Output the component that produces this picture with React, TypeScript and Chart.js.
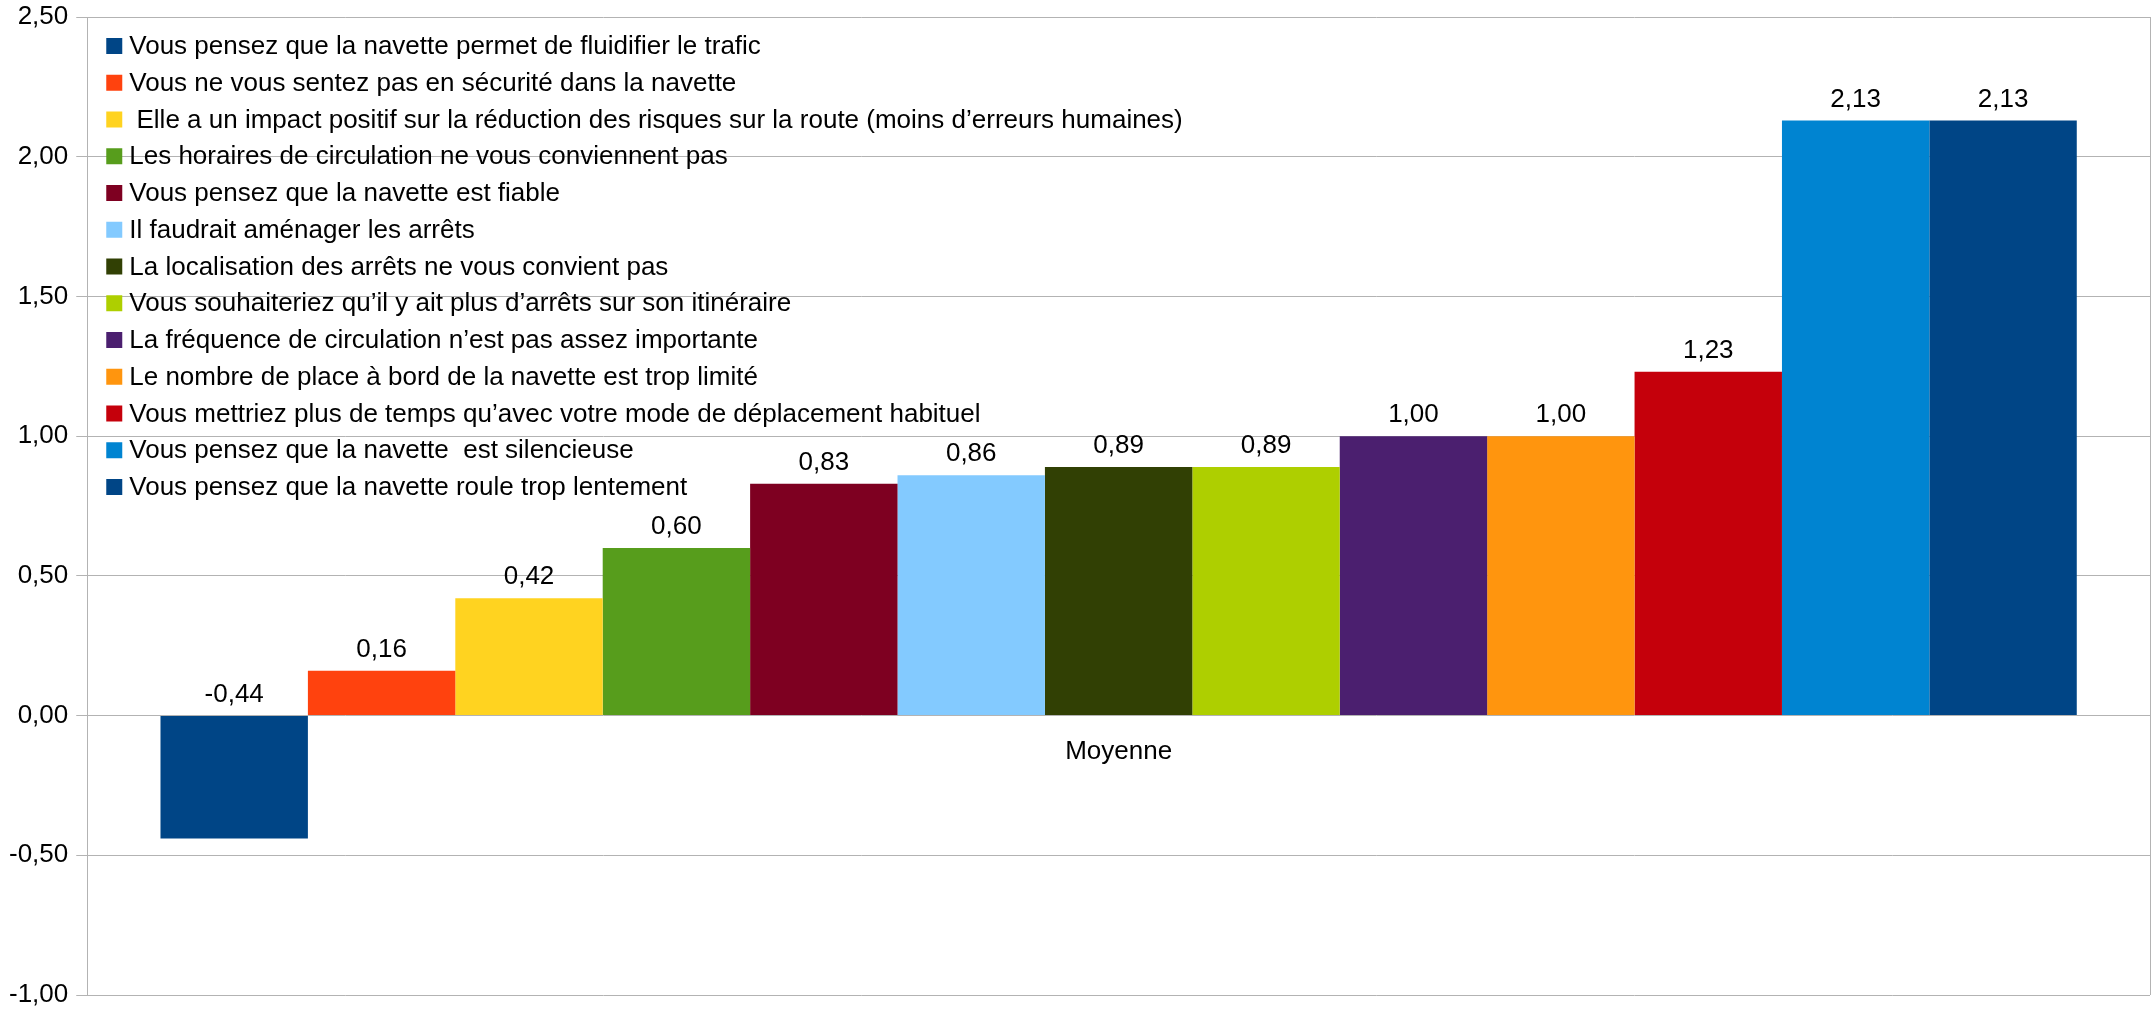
import React, { useEffect, useRef } from "react";
import { Chart, registerables } from "chart.js";

Chart.register(...registerables);

const categories = ["Moyenne"];

const seriesLabels = [
  "Vous pensez que la navette permet de fluidifier le trafic",
  "Vous ne vous sentez pas en sécurité dans la navette",
  " Elle a un impact positif sur la réduction des risques sur la route (moins d’erreurs humaines)",
  "Les horaires de circulation ne vous conviennent pas",
  "Vous pensez que la navette est fiable",
  "Il faudrait aménager les arrêts",
  "La localisation des arrêts ne vous convient pas",
  "Vous souhaiteriez qu’il y ait plus d’arrêts sur son itinéraire",
  "La fréquence de circulation n’est pas assez importante",
  "Le nombre de place à bord de la navette est trop limité",
  "Vous mettriez plus de temps qu’avec votre mode de déplacement habituel",
  "Vous pensez que la navette  est silencieuse",
  "Vous pensez que la navette roule trop lentement",
];

const seriesValues = [-0.44, 0.16, 0.42, 0.6, 0.83, 0.86, 0.89, 0.89, 1.0, 1.0, 1.23, 2.13, 2.13];

const seriesColors = [
  "#004586",
  "#ff420e",
  "#ffd320",
  "#579d1c",
  "#7e0021",
  "#83caff",
  "#314004",
  "#aecf00",
  "#4b1f6f",
  "#ff950e",
  "#c5000b",
  "#0084d1",
  "#004586",
];

const yMin = -1;
const yMax = 2.5;
const yStep = 0.5;

const FONT = '"Liberation Sans", Arial, sans-serif';
const fmt = (v: number) => v.toFixed(2).replace(".", ",");

const insideLegend = {
  id: "insideLegend",
  afterDraw(chart: any) {
    const { ctx, chartArea } = chart;
    ctx.save();
    ctx.font = `26px ${FONT}`;
    ctx.textBaseline = "middle";
    ctx.textAlign = "left";
    chart.data.datasets.forEach((ds: any, i: number) => {
      const cy = chartArea.top + 29 + i * 36.75;
      ctx.fillStyle = ds.backgroundColor;
      ctx.fillRect(chartArea.left + 19, cy - 8, 16, 16);
      ctx.fillStyle = "#000";
      ctx.fillText(ds.label, chartArea.left + 42, cy + 1);
    });
    ctx.restore();
  },
};

const valueLabels = {
  id: "valueLabels",
  afterDatasetsDraw(chart: any) {
    const { ctx } = chart;
    ctx.save();
    ctx.font = `26px ${FONT}`;
    ctx.textBaseline = "middle";
    ctx.textAlign = "center";
    ctx.fillStyle = "#000";
    chart.data.datasets.forEach((ds: any, i: number) => {
      const meta = chart.getDatasetMeta(i);
      meta.data.forEach((el: any, j: number) => {
        const top = Math.min(el.y, el.base);
        ctx.fillText(fmt(ds.data[j]), el.x, top - 21);
      });
    });
    ctx.restore();
  },
};

export default function App() {
  const ref = useRef<HTMLCanvasElement | null>(null);

  useEffect(() => {
    document.body.style.margin = "0";
    const canvas = ref.current;
    if (!canvas) return;
    const chart = new Chart(canvas, {
      type: "bar",
      data: {
        labels: categories,
        datasets: seriesLabels.map((label, i) => ({
          label,
          data: [seriesValues[i]],
          backgroundColor: seriesColors[i],
          borderWidth: 0,
          categoryPercentage: 0.929,
          barPercentage: 1.0,
        })),
      },
      options: {
        animation: false,
        responsive: false,
        maintainAspectRatio: false,
        layout: { padding: { top: 17, bottom: 18, left: 1, right: 1 } },
        plugins: {
          legend: { display: false },
          tooltip: { enabled: false },
          title: { display: false },
        },
        scales: {
          x: {
            type: "category",
            position: { y: 0 } as any,
            grid: { offset: true, drawTicks: false, color: "#b3b3b3", lineWidth: 1 },
            border: { display: false },
            ticks: {
              color: "#000",
              font: { family: FONT, size: 26 },
              padding: 21,
            },
          },
          y: {
            min: yMin,
            max: yMax,
            grid: { color: "#b3b3b3", lineWidth: 1, tickLength: 11, drawTicks: true },
            border: { display: true, color: "#b3b3b3" },
            ticks: {
              stepSize: yStep,
              color: "#000",
              font: { family: FONT, size: 26, lineHeight: 0.5 },
              padding: 8,
              callback: (v: any) => fmt(Number(v)),
            },
          },
        },
      },
      plugins: [valueLabels, insideLegend],
    });
    return () => chart.destroy();
  }, []);

  return (
    <div style={{ width: 2151, height: 1013 }}>
      <canvas ref={ref} width={2151} height={1013} style={{ display: "block", width: 2151, height: 1013 }} />
    </div>
  );
}
